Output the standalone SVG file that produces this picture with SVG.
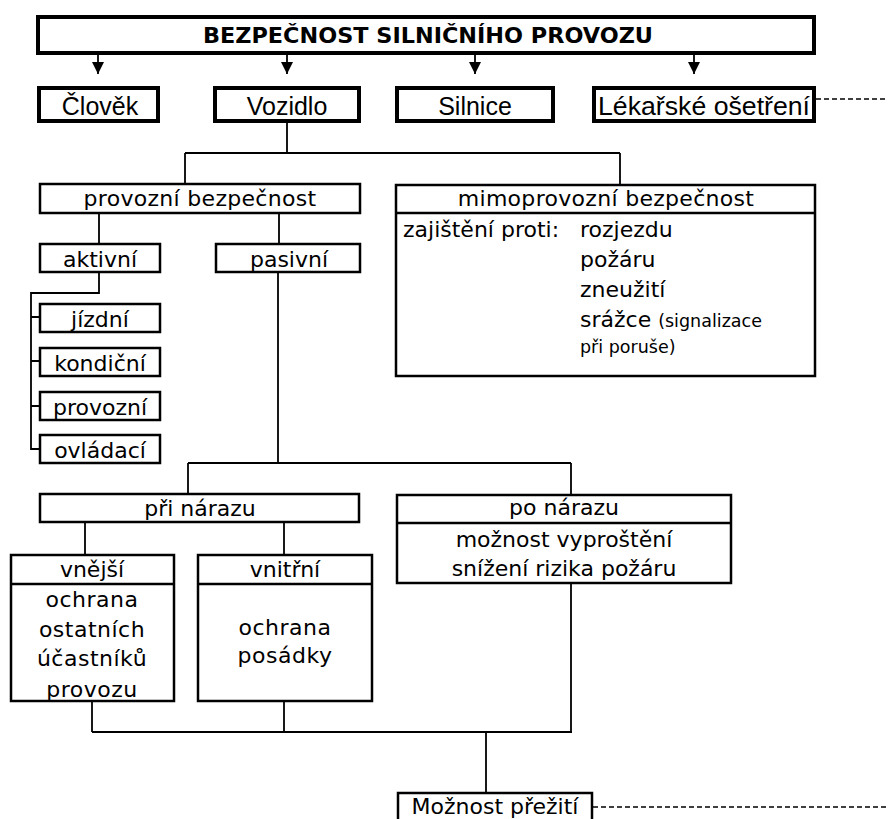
<svg xmlns="http://www.w3.org/2000/svg" width="888" height="819" viewBox="0 0 888 819">
<style>
.bx{fill:#fff;stroke:#000;stroke-width:2.5}
.bxt{fill:#fff;stroke:#000;stroke-width:4}
.t{font-family:"DejaVu Sans",Verdana,sans-serif;font-size:22px;fill:#000;text-anchor:middle}
.tl{font-family:"DejaVu Sans",Verdana,sans-serif;font-size:22px;fill:#000}
.ts{font-family:"DejaVu Sans",Verdana,sans-serif;font-size:17.5px;fill:#000}
.t2{font-family:"Liberation Sans",Arial,sans-serif;font-size:25px;fill:#000;text-anchor:middle}
.ttl{font-family:"DejaVu Sans",Verdana,sans-serif;font-size:21px;font-weight:bold;fill:#000;text-anchor:middle}
.c{fill:none;stroke:#000;stroke-width:1.8}
.d{fill:none;stroke:#000;stroke-width:1.5;stroke-dasharray:5,3}
</style>
<defs>
<marker id="ah" markerWidth="12" markerHeight="12" refX="6" refY="12" orient="0" markerUnits="userSpaceOnUse">
<path d="M0,0 L12,0 L6,12 Z" fill="#000"/>
</marker>
</defs>
<rect width="888" height="819" fill="#fff"/>
<g id="connectors">
<path class="c" d="M98 55 V74" marker-end="url(#ah)"/>
<path class="c" d="M287 55 V74" marker-end="url(#ah)"/>
<path class="c" d="M475 55 V74" marker-end="url(#ah)"/>
<path class="c" d="M694 55 V74" marker-end="url(#ah)"/>
<path class="c" d="M287 123 V153 M185 153 H620 M185 153 V183 M620 153 V184"/>
<path class="c" d="M99 214 V243 M279 214 V243"/>
<path class="c" d="M99 273 V293 H31 V449 H39 M31 317 H39 M31 361 H39 M31 406 H39"/>
<path class="c" d="M278 273 V463 M188 463 H571 M188 463 V493 M571 463 V494"/>
<path class="c" d="M85 523 V554 M284 523 V554"/>
<path class="c" d="M92 702 V732 M284 702 V732 M92 732 H572 M571 584 V732 M486 732 V792"/>
<path class="d" d="M816 99 H888"/>
<path class="d" d="M593 807 H888"/>
</g>
<g id="title">
<rect class="bxt" x="38" y="17" width="776" height="36"/>
<text class="ttl" x="428" y="43" textLength="450" lengthAdjust="spacingAndGlyphs">BEZPEČNOST SILNIČNÍHO PROVOZU</text>
</g>
<g id="clovek">
<rect class="bxt" x="39" y="88" width="119" height="33"/>
<text class="t2" x="100" y="115">Člověk</text>
</g>
<g id="vozidlo">
<rect class="bxt" x="215" y="88" width="144" height="33"/>
<text class="t2" x="287" y="115">Vozidlo</text>
</g>
<g id="silnice">
<rect class="bxt" x="397" y="88" width="156" height="33"/>
<text class="t2" x="475" y="115">Silnice</text>
</g>
<g id="lekarske">
<rect class="bxt" x="594" y="88" width="220" height="33"/>
<text class="t2" x="704" y="115" textLength="212" lengthAdjust="spacingAndGlyphs">Lékařské ošetření</text>
</g>
<g id="provozni-bezpecnost">
<rect class="bx" x="40" y="184" width="320" height="29"/>
<text class="t" x="200" y="206" letter-spacing="0.3">provozní bezpečnost</text>
</g>
<g id="mimoprovozni">
<rect class="bx" x="396" y="185" width="419" height="191"/>
<line x1="396" y1="213" x2="815" y2="213" stroke="#000" stroke-width="2.5"/>
<text class="t" x="606" y="206" letter-spacing="0.3">mimoprovozní bezpečnost</text>
<text class="tl" x="403" y="237">zajištění proti:</text>
<text class="tl" x="580" y="237">rozjezdu</text>
<text class="tl" x="580" y="267">požáru</text>
<text class="tl" x="580" y="297">zneužití</text>
<text class="tl" x="580" y="327">srážce <tspan class="ts">(signalizace</tspan></text>
<text class="ts" x="580" y="353">při poruše)</text>
</g>
<g id="aktivni">
<rect class="bx" x="40" y="244" width="120" height="28"/>
<text class="t" x="100" y="267">aktivní</text>
</g>
<g id="pasivni">
<rect class="bx" x="216" y="244" width="144" height="28"/>
<text class="t" x="289" y="267">pasivní</text>
</g>
<g id="jizdni">
<rect class="bx" x="40" y="304" width="120" height="28"/>
<text class="t" x="100" y="327">jízdní</text>
</g>
<g id="kondicni">
<rect class="bx" x="40" y="348" width="120" height="28"/>
<text class="t" x="100" y="371">kondiční</text>
</g>
<g id="provozni">
<rect class="bx" x="40" y="392" width="120" height="28"/>
<text class="t" x="100" y="415">provozní</text>
</g>
<g id="ovladaci">
<rect class="bx" x="40" y="435" width="120" height="28"/>
<text class="t" x="100" y="458">ovládací</text>
</g>
<g id="pri-narazu">
<rect class="bx" x="40" y="494" width="319" height="28"/>
<text class="t" x="200" y="516">při nárazu</text>
</g>
<g id="po-narazu">
<rect class="bx" x="397" y="495" width="334" height="88"/>
<line x1="397" y1="523" x2="731" y2="523" stroke="#000" stroke-width="2.5"/>
<text class="t" x="564" y="515">po nárazu</text>
<text class="t" x="564" y="547">možnost vyproštění</text>
<text class="t" x="564" y="576">snížení rizika požáru</text>
</g>
<g id="vnejsi">
<rect class="bx" x="11" y="555" width="163" height="146"/>
<line x1="11" y1="584" x2="174" y2="584" stroke="#000" stroke-width="2.5"/>
<text class="t" x="92" y="577">vnější</text>
<text class="t" x="92" y="607" letter-spacing="0.5">ochrana</text>
<text class="t" x="92" y="637" letter-spacing="0.5">ostatních</text>
<text class="t" x="92" y="666" letter-spacing="0.5">účastníků</text>
<text class="t" x="92" y="697" letter-spacing="0.5">provozu</text>
</g>
<g id="vnitrni">
<rect class="bx" x="198" y="555" width="174" height="146"/>
<line x1="198" y1="584" x2="372" y2="584" stroke="#000" stroke-width="2.5"/>
<text class="t" x="285" y="577">vnitřní</text>
<text class="t" x="285" y="635" letter-spacing="0.5">ochrana</text>
<text class="t" x="285" y="663" letter-spacing="0.5">posádky</text>
</g>
<g id="moznost-preziti">
<rect class="bx" x="398" y="793" width="194" height="40"/>
<text class="t" x="495" y="814">Možnost přežití</text>
</g>
</svg>
